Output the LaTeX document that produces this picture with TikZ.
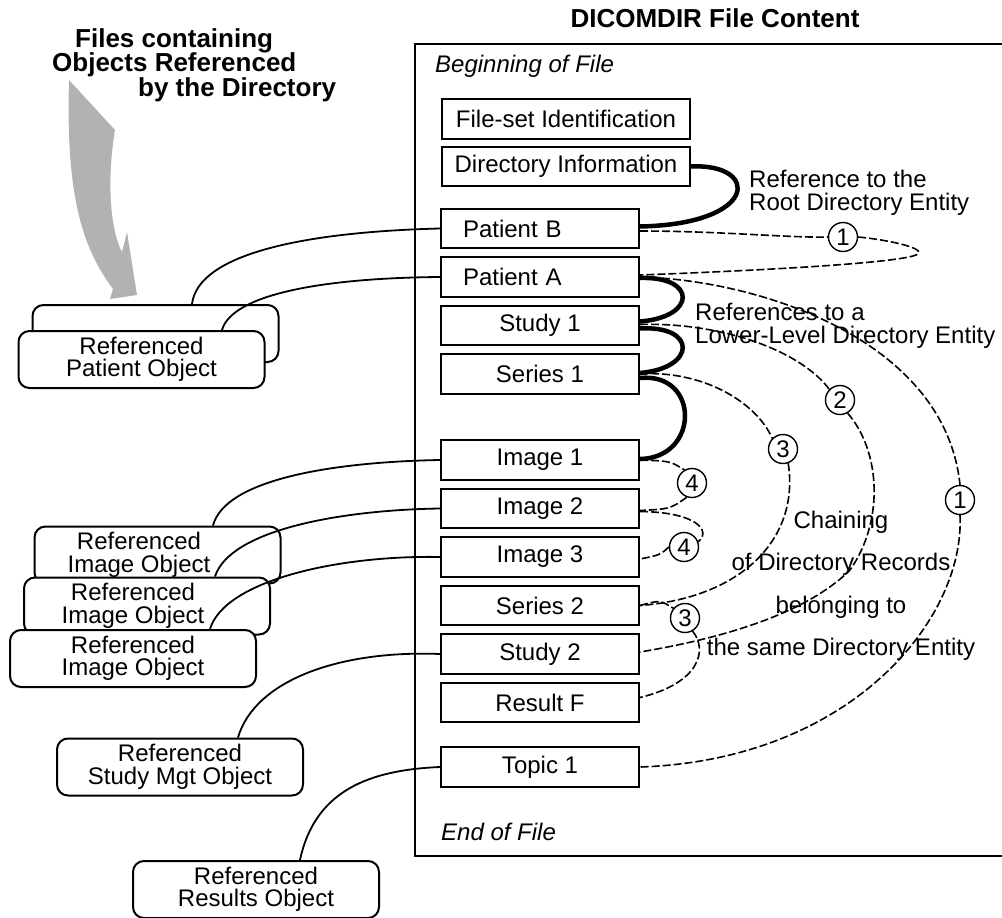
\documentclass[tikz,border=0pt]{standalone}
\usepackage{fontspec}
\setmainfont{Liberation Sans}
\usepackage{tikz}
\usetikzlibrary{positioning}
\newcommand{\figfont}{\fontsize{24}{21}\selectfont}
\newcommand{\objfont}{\fontsize{24}{22.5}\selectfont}
\newcommand{\headfont}{\fontsize{26}{24.5}\selectfont\bfseries}

\begin{document}
\begin{tikzpicture}[
  x=1pt, y=-1pt,
  font=\figfont,
  rec/.style={draw,line width=2pt,fill=white,minimum width=198pt,minimum height=39.5pt,inner sep=0pt},
  recw/.style={rec,minimum width=248pt},
  recl/.style={rec,text width=154pt,inner xsep=22pt,align=left},
  obj/.style={draw,line width=2pt,fill=white,rounded corners=11pt,minimum width=246pt,minimum height=57pt,inner sep=0pt,align=center,font=\objfont},
  num/.style={draw,circle,line width=1.4pt,fill=white,minimum size=29pt,inner sep=0pt},
  txt/.style={inner sep=0pt},
  lnk/.style={line width=1.8pt},
  thk/.style={line width=4.5pt},
  chn/.style={line width=1.6pt,dash pattern=on 8pt off 3pt}
]
\path[use as bounding box,fill=white] (0,0) rectangle (1002,918);
\fill[gray!60] (69,80) -- (115,130) .. controls (108,170) and (108,225) .. (122,252) -- (127,232) -- (137,295) -- (110,299) -- (113,289) .. controls (80,245) and (66,190) .. (69,80) -- cycle;
\node[txt,anchor=north west,align=left,font=\headfont] (files) at (52,28) {\hspace*{23pt}Files containing\\Objects Referenced\\\hspace*{86pt}by the Directory};

\node[draw,line width=2pt,minimum width=600pt,minimum height=812pt,inner sep=0pt,anchor=north west] (file) at (414,43) {};
\node[txt,font=\headfont,above=15pt of file] (ttl) {DICOMDIR File Content};
\node[txt,anchor=west,font=\figfont\itshape] (bof) at (435,66) {Beginning of File};
\node[txt,anchor=west,font=\figfont\itshape] (eof) at (441,832) {End of File};

\node[recw] (fsi) at (566,119) {File-set Identification};
\node[recw,below=6pt of fsi] (dinfo) {Directory Information};
\node[recl] (patB) at (540,228.5) {Patient B};
\node[recl,below=7pt of patB] (patA) {Patient A};
\node[rec,below=7pt of patA] (stu1) {Study 1};
\node[rec,below=7pt of stu1] (ser1) {Series 1};
\node[rec] (img1) at (540,460) {Image 1};
\node[rec,below=7pt of img1] (img2) {Image 2};
\node[rec,below=7pt of img2] (img3) {Image 3};
\node[rec,below=7pt of img3] (ser2) {Series 2};
\node[rec,below=7pt of ser2] (stu2) {Study 2};
\node[rec,below=7pt of stu2] (resF) {Result F};
\node[rec] (top1) at (540,767) {Topic 1};

\node[obj] (pob) at (155.5,333.5) {};
\node[obj] (po) at (141.5,359.5) {Referenced\\Patient Object};
\node[obj] (io1) at (157.5,555) {Referenced\hspace*{37pt}\\Image Object\hspace*{37pt}};
\node[obj] (io2) at (147,606) {Referenced\hspace*{28pt}\\Image Object\hspace*{28pt}};
\node[obj] (io3) at (133,658.5) {Referenced\\Image Object};
\node[obj] (smo) at (180,767) {Referenced\\Study Mgt Object};
\node[obj] (rso) at (256,889.5) {Referenced\\Results Object};

\draw[lnk] ([xshift=36.5pt]pob.north) .. controls (198,255) and (300,232) .. (patB.west);
\draw[lnk] ([xshift=80.5pt]po.north) .. controls (232,295) and (320,278) .. (patA.west);
\draw[lnk] ([xshift=55.5pt]io1.north) .. controls (225,480) and (330,462) .. (img1.west);
\draw[lnk] ([xshift=68pt]io2.north) .. controls (230,530) and (340,510) .. (img2.west);
\draw[lnk] ([xshift=77pt]io3.north) .. controls (225,580) and (340,555) .. (img3.west);
\draw[lnk] ([xshift=58pt]smo.north) .. controls (255,680) and (340,650) .. (stu2.west);
\draw[lnk] ([xshift=44pt]rso.north) .. controls (315,790) and (370,770) .. (top1.west);

\draw[thk] (dinfo.east) .. controls (760,163) and (760,224) .. ([yshift=2pt]patB.east);
\draw[thk] ([yshift=-1pt]patA.east) .. controls (697,276) and (697,317) .. ([yshift=4pt]stu1.east);
\draw[thk] ([yshift=-3pt]stu1.east) .. controls (697,325) and (697,368) .. ([yshift=1pt]ser1.east);
\draw[thk] ([yshift=-4pt]ser1.east) .. controls (700,372) and (700,458) .. ([yshift=1pt]img1.east);

\node[num] (c1a) at (843,237) {1};
\node[num] (c1b) at (960,500) {1};
\node[num] (c2) at (840,400) {2};
\node[num] (c3a) at (783,449) {3};
\node[num] (c3b) at (685,618) {3};
\node[num] (c4a) at (692,483) {4};
\node[num] (c4b) at (684,547) {4};

\draw[chn] ([yshift=-2.5pt]patB.east) .. controls (720,231) and (790,238) .. (c1a.west);
\draw[chn] (c1a.east) .. controls (890,240) and (935,250) .. (913,256) .. controls (880,265) and (720,272) .. ([yshift=2pt]patA.east);
\draw[chn] (patA.east) .. controls (760,280) and (945,340) .. (c1b.north);
\draw[chn] (c1b.south) .. controls (965,620) and (850,760) .. (top1.east);
\draw[chn] ([yshift=1pt]stu1.east) .. controls (720,322) and (800,350) .. (c2.135);
\draw[chn] (c2.-60) .. controls (880,450) and (885,520) .. (850,570) .. controls (800,620) and (700,642) .. ([yshift=2pt]stu2.east);
\draw[chn] (ser1.east) .. controls (700,370) and (755,400) .. (c3a.135);
\draw[chn] (c3a.-70) .. controls (800,540) and (740,598) .. (ser2.east);
\draw[chn] (ser2.east) .. controls (660,600) .. (c3b.140);
\draw[chn] (c3b.-60) .. controls (708,650) and (700,683) .. ([yshift=5pt]resF.east);
\draw[chn] (img1.east) .. controls (670,461) .. (c4a.120);
\draw[chn] (c4a.-110) .. controls (670,509) .. ([yshift=-2pt]img2.east);
\draw[chn] ([yshift=-3pt]img2.east) .. controls (695,512) and (712,530) .. (c4b.20);
\draw[chn] (c4b.west) .. controls (660,555) .. ([yshift=-2pt]img3.east);

\node[txt,anchor=west,align=left,font=\objfont] (rroot) at (749,193) {Reference to the\\Root Directory Entity};
\node[txt,anchor=west,align=left,font=\objfont] (rlow) at (695,326) {References to a\\Lower-Level Directory Entity};
\node[txt,align=center,font=\fontsize{24}{42.5}\selectfont] (chain) at (841,586) {Chaining\\of Directory Records\\belonging to\\the same Directory Entity};
\end{tikzpicture}
\end{document}
